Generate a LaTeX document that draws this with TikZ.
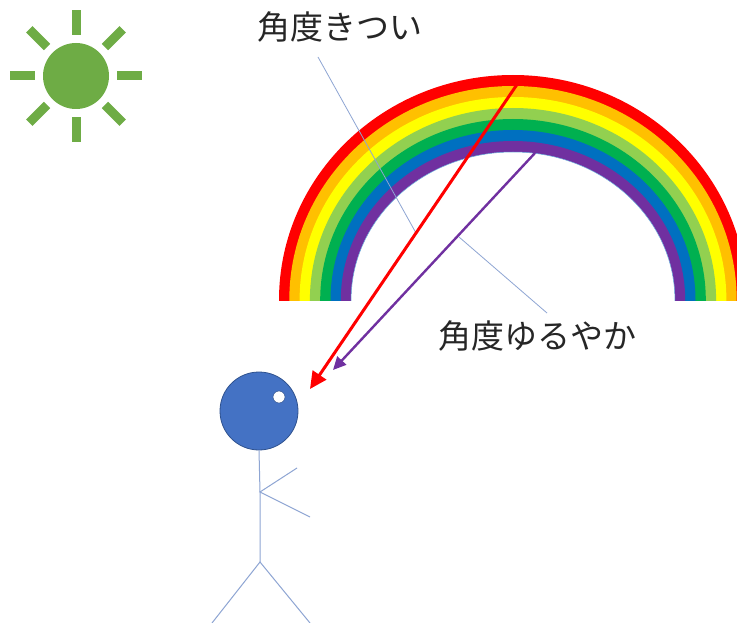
\documentclass[tikz,border=0pt]{standalone}
\usepackage{fontspec}
\newfontfamily\cjk{Noto Sans CJK JP}
\usetikzlibrary{arrows.meta}
\definecolor{sungreen}{HTML}{6EAC45}
\definecolor{rbred}{HTML}{FF0000}
\definecolor{rborange}{HTML}{FFC000}
\definecolor{rbyellow}{HTML}{FFFF00}
\definecolor{rblgreen}{HTML}{92D050}
\definecolor{rbgreen}{HTML}{00B050}
\definecolor{rbblue}{HTML}{0070C0}
\definecolor{rbpurple}{HTML}{7030A0}
\definecolor{headblue}{HTML}{4472C4}
\definecolor{headedge}{HTML}{2F528F}
\definecolor{limb}{HTML}{8EA5D3}
\definecolor{textgray}{HTML}{262626}
\tikzset{
  label text/.style={font=\cjk\fontsize{33}{36}\selectfont, text=textgray, inner sep=0pt},
  leader/.style={draw=limb, line width=0.8pt},
  limbline/.style={draw=limb, line width=1pt},
  sunray/.style={fill=sungreen},
  ray red/.style={draw=rbred, line width=3pt, -{Triangle[length=17pt,width=16pt]}},
  ray purple/.style={draw=rbpurple, line width=2.4pt, -{Triangle[length=13pt,width=12pt]}},
}
\begin{document}
\begin{tikzpicture}[x=1pt,y=1pt]
\useasboundingbox (0,0) rectangle (737,-623);
\fill[white] (0,0) rectangle (737,-623);

% sun
\fill[sungreen] (76,-76) circle[radius=33];
\foreach \a in {0,45,...,315}
  \fill[sunray, rotate around={\a:(76,-76)}] (117,-80.5) rectangle (142,-71.5);

% rainbow: nested ellipses from the outside in, cut off at the horizon
\begin{scope}
\clip (0,0) rectangle (737,-300);
\foreach \c [count=\k from 0] in {rbred,rborange,rbyellow,rblgreen,rbgreen,rbblue,rbpurple}{
  \pgfmathsetmacro{\rx}{234-10.3*\k}
  \pgfmathsetmacro{\ry}{225-11*\k}
  \fill[\c] (513,-300) ellipse[x radius=\rx,y radius=\ry];
}
\fill[white] (513,-300) ellipse[x radius=161.9,y radius=148];
\draw[rbblue!60, line width=0.5pt] (513,-300) ellipse[x radius=161.9,y radius=148];
\end{scope}

% labels and leader lines
\node[label text] (steep) at (340,-27) {角度きつい};
\node[label text] (gentle) at (537,-336) {角度ゆるやか};
\coordinate (steepfoot) at (318,-57);
\coordinate (steephit) at (416,-233);
\coordinate (gentlefoot) at (547,-313);
\coordinate (gentlehit) at (459,-237);
\draw[leader] (steepfoot) -- (steephit);
\draw[leader] (gentlefoot) -- (gentlehit);

% light rays to the eye
\coordinate (redtop) at (518,-83);
\coordinate (redend) at (310,-389);
\coordinate (purtop) at (535,-153);
\coordinate (purend) at (333,-370);
\draw[ray red] (redtop) -- (redend);
\draw[ray purple] (purtop) -- (purend);

% stick figure
\node[circle, fill=headblue, draw=headedge, line width=0.8pt, minimum size=78pt, inner sep=0pt] (head) at (259,-411) {};
\node[circle, fill=white, draw=headedge, line width=0.5pt, minimum size=12pt, inner sep=0pt] (eye) at (279,-397) {};
\coordinate (shoulder) at (260,-492);
\coordinate (hip) at (260,-562);
\coordinate (armup) at (297,-468);
\coordinate (armdown) at (310,-517);
\coordinate (legl) at (212,-623);
\coordinate (legr) at (310,-623);
\draw[limbline] (head.south) -- (shoulder) -- (hip);
\draw[limbline] (armup) -- (shoulder) -- (armdown);
\draw[limbline] (legl) -- (hip) -- (legr);
\end{tikzpicture}
\end{document}
